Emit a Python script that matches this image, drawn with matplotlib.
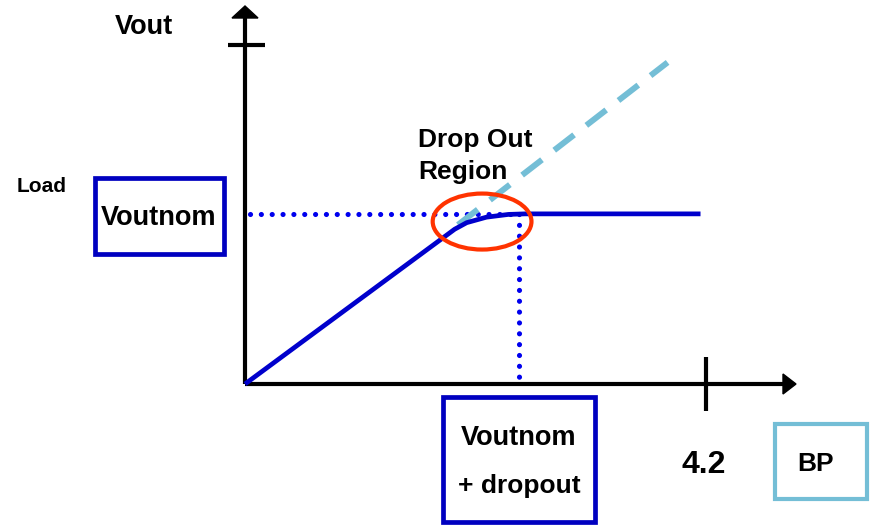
import matplotlib
matplotlib.use("Agg")
import matplotlib.pyplot as plt
from matplotlib.patches import Rectangle, Ellipse, Polygon
from matplotlib.transforms import Affine2D

# ---- data (volts) ----
bp_tick = 4.2                 # battery voltage tick on x axis
vout_nom = 1.55               # nominal output level
vdrop_x = 2.5                 # Voutnom + dropout
curve_x = [0, 1.91, 2.02, 2.2, 2.4, 2.55, 4.15]
curve_y = [0, 1.41, 1.47, 1.52, 1.545, 1.55, 1.55]
ideal_x = [1.94, 3.85]
ideal_y = [1.45, 2.93]
region_center = (2.16, 1.48)
region_size = (0.90, 0.51)

W, H = 872, 525
S = (706 - 245) / bp_tick   # px per volt
x0, y0 = 245, 384           # origin in px

fig = plt.figure(figsize=(W / 100, H / 100), dpi=100)
ax = fig.add_axes([0, 0, 1, 1])
ax.set_xlim(-x0 / S, (W - x0) / S)
ax.set_ylim(-(H - y0) / S, y0 / S)
ax.axis("off")

# pixel transform (origin top-left) for layout annotations
P = Affine2D().scale(1 / W, -1 / H).translate(0, 1) + fig.transFigure
FONT = "Liberation Sans"

# axes
ytop = (y0 - 18) / S
xright = (785 - x0) / S
ax.plot([0, 0], [0, ytop], color="black", lw=3, solid_capstyle="butt", zorder=3)
ax.plot([0, xright], [0, 0], color="black", lw=3, solid_capstyle="butt", zorder=3)
ax.add_patch(Polygon([(232, 18), (258, 18), (245, 6)], closed=True, transform=P,
                     color="black", zorder=3))
ax.add_patch(Polygon([(783, 374), (783, 394), (796, 384)], closed=True, transform=P,
                     color="black", zorder=3))
# ticks
ax.plot([228, 265], [45, 45], color="black", lw=3, transform=P, solid_capstyle="butt")
ax.plot([706, 706], [357, 411], color="black", lw=3, transform=P, solid_capstyle="butt")

# dotted guides
dot = dict(color="#0000EE", lw=3.7, linestyle=(0, (0.01, 2.1)), dash_capstyle="round")
ax.plot([0.05, vdrop_x], [vout_nom, vout_nom], **dot, zorder=2)
ax.plot([vdrop_x, vdrop_x], [vout_nom, 0.03], **dot, zorder=2)

# ideal dashed line
ax.plot(ideal_x, ideal_y, color="#74BED6", lw=4.3, linestyle=(0, (4.2, 2.6)),
        solid_capstyle="butt", zorder=4)

# output curve
ax.plot(curve_x, curve_y, color="#0000CC", lw=3.4, solid_capstyle="butt", zorder=5)

# drop-out region ellipse
ax.add_patch(Ellipse(region_center, region_size[0], region_size[1], fill=False,
                     edgecolor="#FF3300", lw=3.0, zorder=6))

# texts
tb = dict(fontfamily=FONT, fontweight="bold", color="black", transform=P)
ax.text(144, 27, "Vout", fontsize=19.5, ha="center", va="center", **tb)
ax.text(42, 186, "Load", fontsize=15, ha="center", va="center", **tb)
ax.text(418, 140, "Drop Out", fontsize=19, ha="left", va="center", **tb)
ax.text(418, 172, "Region", fontsize=19, ha="left", va="center", **tb)
ax.text(704, 465, "4.2", fontsize=23, ha="center", va="center", **tb)

# boxes
ax.add_patch(Rectangle((95, 178), 129, 76, fill=False, edgecolor="#0000C0", lw=3.4,
                       transform=P))
ax.text(159, 218, "Voutnom", fontsize=19.5, ha="center", va="center", **tb)
ax.add_patch(Rectangle((443, 397), 152, 125, fill=False, edgecolor="#0000C0", lw=3.4,
                       transform=P))
ax.text(519, 438, "Voutnom", fontsize=19.5, ha="center", va="center", **tb)
ax.text(519, 486, "+ dropout", fontsize=19, ha="center", va="center", **tb)
ax.add_patch(Rectangle((775, 424), 92, 75, fill=False, edgecolor="#74BED6", lw=3,
                       transform=P))
ax.text(816, 464, "BP", fontsize=19, ha="center", va="center", **tb)

fig.savefig("out.png", dpi=100)
